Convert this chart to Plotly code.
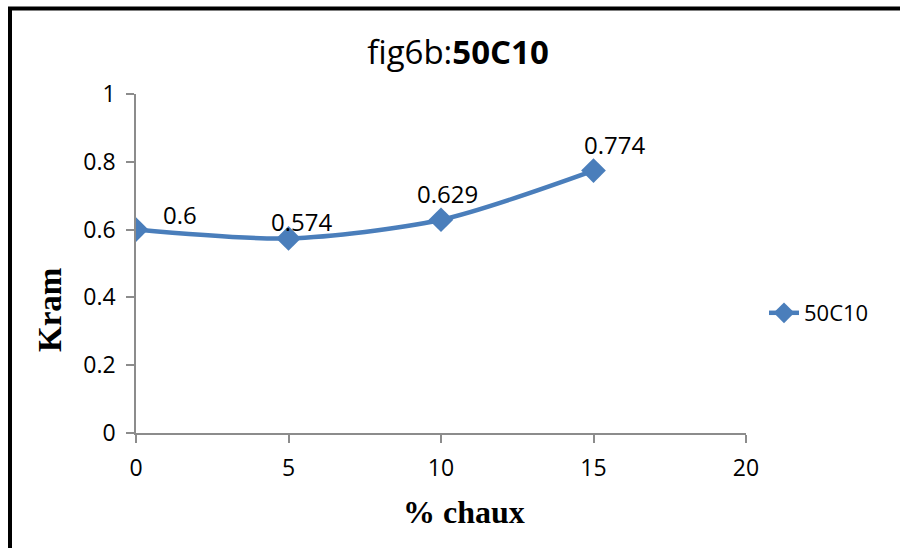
import plotly.graph_objects as go

# Kram as a function of lime content
chaux = [0, 5, 10, 15]
kram = [0.6, 0.574, 0.629, 0.774]
series_name = "50C10"
x_ticks = [0, 5, 10, 15, 20]
y_ticks = [0, 0.2, 0.4, 0.6, 0.8, 1]
y_tick_text = ["0", "0.2", "0.4", "0.6", "0.8", "1"]

# per-label offsets (px) for the value labels
label_dx = [44, 13, 6, 21]
label_dy = [15, 17, 26, 26]

W, H = 900, 548
L, R, T, B = 136, 154, 94, 115
pw, ph = W - L - R, H - T - B

def px_x(p):
    return (p - L) / pw

def px_y(p):
    return (H - B - p) / ph

blue = "#4a7ebb"
sans = "Open Sans, Liberation Sans"
serif = "Liberation Serif, Times New Roman"

fig = go.Figure()
fig.add_trace(go.Scatter(
    x=chaux, y=kram, mode="lines+markers", name=series_name,
    line=dict(color=blue, width=4.5, shape="spline", smoothing=0.8),
    marker=dict(symbol="diamond", size=19, color=blue),
))

for xv, yv, dx, dy in zip(chaux, kram, label_dx, label_dy):
    fig.add_annotation(x=xv, y=yv, text=str(yv), showarrow=False,
                       xshift=dx, yshift=dy,
                       font=dict(family=sans, size=24, color="black"))

# axis titles
fig.add_annotation(x=px_x(464), y=px_y(512), xref="paper", yref="paper",
                   text="<b>% chaux</b>", showarrow=False,
                   xanchor="center", yanchor="middle",
                   font=dict(family=serif, size=32, color="black"))
fig.add_annotation(x=px_x(50), y=px_y(310), xref="paper", yref="paper",
                   text="<b>Kram</b>", showarrow=False, textangle=-90,
                   xanchor="center", yanchor="middle",
                   font=dict(family=serif, size=33, color="black"))

axis_common = dict(showgrid=False, zeroline=False, showline=True,
                   linecolor="#8c8c8c", linewidth=1.5,
                   ticks="outside", ticklen=8, tickcolor="#8c8c8c", tickwidth=1.5,
                   tickfont=dict(family=sans, size=23, color="black"))

fig.update_xaxes(range=[0, 20], tickvals=x_ticks, ticklabelstandoff=6, **axis_common)
fig.update_yaxes(range=[0, 1], tickvals=y_ticks, ticktext=y_tick_text, ticklabelstandoff=6,
                 **axis_common)

# frame around the chart (top and left edges visible)
frame = dict(color="black", width=4)
fig.add_shape(type="line", xref="paper", yref="paper",
              x0=px_x(8), x1=px_x(910), y0=px_y(8.5), y1=px_y(8.5), line=frame)
fig.add_shape(type="line", xref="paper", yref="paper",
              x0=px_x(10), x1=px_x(10), y0=px_y(7), y1=px_y(560), line=frame)

fig.update_layout(
    width=W, height=H,
    margin=dict(l=L, r=R, t=T, b=B),
    paper_bgcolor="white", plot_bgcolor="white",
    title=dict(text="fig6b:<b>50C10</b>", x=458 / W, xanchor="center",
               y=1 - 52 / H, yanchor="middle",
               font=dict(family=sans, size=33, color="black")),
    showlegend=True,
    legend=dict(x=px_x(764), y=px_y(313), xanchor="left", yanchor="middle",
                font=dict(family=sans, size=22, color="black"),
                bgcolor="rgba(0,0,0,0)"),
)

fig.write_html("out.html")
